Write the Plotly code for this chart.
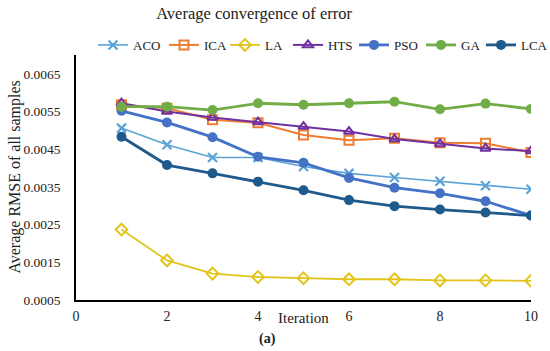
import plotly.graph_objects as go

iterations = [1, 2, 3, 4, 5, 6, 7, 8, 9, 10]
aco = [0.00506, 0.00462, 0.00428, 0.00428, 0.00404, 0.00386, 0.00375, 0.00365, 0.00353, 0.00344]
ica = [0.00568, 0.00559, 0.00528, 0.00520, 0.00488, 0.00474, 0.00479, 0.00467, 0.00466, 0.00441]
la = [0.00237, 0.00155, 0.00120, 0.00111, 0.00108, 0.00105, 0.00105, 0.00102, 0.00102, 0.00101]
hts = [0.00572, 0.00550, 0.00534, 0.00522, 0.00510, 0.00497, 0.00477, 0.00464, 0.00452, 0.00445]
pso = [0.00552, 0.00521, 0.00482, 0.00430, 0.00414, 0.00374, 0.00348, 0.00333, 0.00312, 0.00274]
ga = [0.00563, 0.00563, 0.00554, 0.00572, 0.00568, 0.00572, 0.00576, 0.00556, 0.00571, 0.00557]
lca = [0.00483, 0.00408, 0.00386, 0.00364, 0.00341, 0.00315, 0.00299, 0.00290, 0.00282, 0.00274]

y_ticks = [0.0005, 0.0015, 0.0025, 0.0035, 0.0045, 0.0055, 0.0065]
x_ticks = [0, 2, 4, 6, 8, 10]

FONT = "Liberation Serif"
TXT = "#222222"

series = [
    ("ACO", aco, "#5BA3D6", 1.6, dict(symbol="x-thin", size=9, line=dict(width=2.2, color="#5BA3D6")), 26),
    ("ICA", ica, "#ED7D31", 2.0, dict(symbol="square-open", size=9, line=dict(width=2, color="#ED7D31")), 16),
    ("LA", la, "#E2C41B", 1.8, dict(symbol="diamond-open", size=9, line=dict(width=2, color="#E2C41B")), 18),
    ("HTS", hts, "#7030A0", 2.0, dict(symbol="triangle-up-open", size=9, line=dict(width=2, color="#7030A0")), 21),
    ("PSO", pso, "#4472C4", 2.8, dict(symbol="circle", size=10, color="#4472C4"), 22),
    ("GA", ga, "#70AD47", 2.8, dict(symbol="circle", size=10, color="#70AD47"), 15),
    ("LCA", lca, "#1F5A8C", 2.8, dict(symbol="circle", size=10, color="#1F5A8C"), 24),
]

fig = go.Figure()
for name, vals, color, lw, marker, legw in series:
    fig.add_trace(go.Scatter(
        x=iterations, y=vals, name=name, mode="lines+markers",
        line=dict(color=color, width=lw), marker=marker, legendwidth=legw,
    ))

fig.update_layout(
    width=550, height=351,
    margin=dict(l=76, r=19, t=55, b=51),
    paper_bgcolor="white", plot_bgcolor="white",
    font=dict(family=FONT, size=13, color=TXT),
    title=dict(text="Average convergence of error", x=0.462, xanchor="center",
               y=0.98, yanchor="top", font=dict(family=FONT, size=16.5, color=TXT)),
    legend=dict(orientation="h", x=-0.001, xanchor="left", y=1.041, yanchor="middle",
                title=dict(text="\u00a0\u00a0\u00a0\u00a0", side="left",
                           font=dict(family=FONT, size=13, color=TXT)),
                font=dict(family=FONT, size=13, color=TXT),
                itemwidth=30, tracegroupgap=0, bgcolor="rgba(0,0,0,0)"),
    showlegend=True,
)
fig.update_xaxes(range=[0, 10], tickvals=x_ticks, ticktext=[str(v) for v in x_ticks],
                 showgrid=False, zeroline=False, showline=True, linecolor="black",
                 linewidth=1.5, ticks="", automargin=False, ticklabelstandoff=2,
                 tickfont=dict(family=FONT, size=14, color=TXT))
fig.update_yaxes(range=[0.0005, 0.0070], tickvals=y_ticks, ticktext=[f"{v:.4f}" for v in y_ticks],
                 showgrid=False, zeroline=False, showline=True, linecolor="black",
                 linewidth=1.5, ticks="", automargin=False, ticklabelstandoff=11,
                 tickfont=dict(family=FONT, size=13.5, color=TXT))
fig.add_annotation(text="Average RMSE of all samples", xref="paper", yref="paper",
                   x=-0.136, y=0.5, textangle=-90, xanchor="center", yanchor="middle",
                   showarrow=False, font=dict(family=FONT, size=16, color=TXT))
fig.add_annotation(text="Iteration", xref="paper", yref="paper", x=0.501, y=-0.072,
                   xanchor="center", yanchor="middle", showarrow=False,
                   font=dict(family=FONT, size=15, color=TXT))
fig.add_annotation(text="<b>(a)</b>", xref="paper", yref="paper", x=0.42, y=-0.16,
                   xanchor="center", yanchor="middle", showarrow=False,
                   font=dict(family=FONT, size=14, color=TXT))

fig.write_html("out.html", config={"displayModeBar": False},
               post_script="document.body.style.margin='0';")
